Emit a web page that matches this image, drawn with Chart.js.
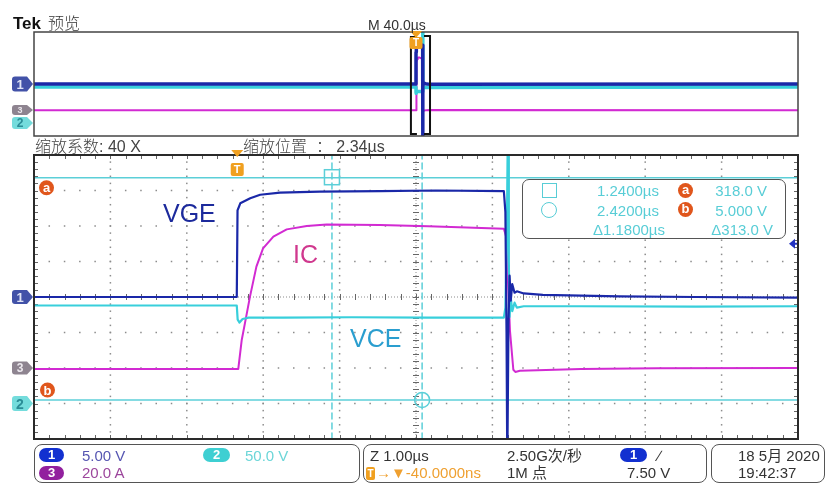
<!DOCTYPE html>
<html>
<head>
<meta charset="utf-8">
<script src="https://cdn.jsdelivr.net/npm/chart.js@4.4.0/dist/chart.umd.min.js"></script>
<style>
  body { margin: 0; background: #fff; }
  #wrap { position: relative; width: 828px; height: 497px; overflow: hidden;
          font-family: "Liberation Sans", Arial, "Noto Sans CJK SC", sans-serif; }
  canvas { position: absolute; left: 0; top: 0; }
  .t { position: absolute; white-space: nowrap; line-height: 1; }
  .cjk { font-family: "Noto Sans CJK SC", sans-serif; font-weight: 300; }
  .box { position: absolute; box-sizing: border-box; border: 1.5px solid #555; border-radius: 8px; }
  .pill { position: absolute; height: 14px; border-radius: 7px; color: #fff; text-align: center;
          font: bold 13px "Liberation Sans", Arial, sans-serif; line-height: 14px; }
  .mk { position: absolute; text-align: center; line-height: 1; font-weight: bold; }
  .rd { position: absolute; line-height: 1; font-size: 15px; color: #58cdd6; white-space: nowrap; text-align: right; }
</style>
</head>
<body>
<div id="wrap">
  <canvas id="overview" width="828" height="140"></canvas>
  <canvas id="main" width="828" height="497"></canvas>

  <div class="t" style="left:13px;top:15px;font-size:17px;font-weight:bold;color:#111">Tek</div>
  <div class="t cjk" style="left:48px;top:14px;font-size:16px;color:#333">预览</div>
  <div class="t" style="left:368px;top:18px;font-size:14px;color:#333">M 40.0µs</div>
  <div class="t" style="left:35px;top:137px;font-size:16px;color:#444"><span class="cjk">缩放系数</span>: 40 X</div>
  <div class="t" style="left:243px;top:137px;font-size:16px;color:#444"><span class="cjk">缩放位置</span>&nbsp;&nbsp;<span class="cjk">：</span>&nbsp;2.34µs</div>

  <div class="t" style="left:163px;top:201px;font-size:25px;color:#1c2a9c">VGE</div>
  <div class="t" style="left:293px;top:242px;font-size:25px;color:#d0388e">IC</div>
  <div class="t" style="left:350px;top:326px;font-size:25px;color:#2a9ecf">VCE</div>

  <!-- cursor readout -->
  <div class="box" style="left:522px;top:179px;width:264px;height:60px;border-radius:7px;background:#fff"></div>
  <div style="position:absolute;left:542px;top:183px;width:15px;height:15px;box-sizing:border-box;border:1.5px solid #58cdd6"></div>
  <div style="position:absolute;left:541px;top:202px;width:16px;height:16px;box-sizing:border-box;border:1.5px solid #58cdd6;border-radius:50%"></div>
  <div class="rd" style="right:169px;top:183px">1.2400µs</div>
  <div class="rd" style="right:169px;top:203px">2.4200µs</div>
  <div class="rd" style="right:163px;top:222px">Δ1.1800µs</div>
  <div class="rd" style="right:61px;top:183px">318.0 V</div>
  <div class="rd" style="right:61px;top:203px">5.000 V</div>
  <div class="rd" style="right:55px;top:222px">Δ313.0 V</div>
  <div class="mk" style="left:678px;top:183px;width:15px;height:15px;border-radius:50%;background:#e0561c;color:#fff;font-size:13px;line-height:14px">a</div>
  <div class="mk" style="left:678px;top:202px;width:15px;height:15px;border-radius:50%;background:#e0561c;color:#fff;font-size:13px;line-height:14px">b</div>

  <!-- status bar -->
  <div class="box" style="left:34px;top:444px;width:326px;height:39px"></div>
  <div class="box" style="left:363px;top:444px;width:344px;height:39px"></div>
  <div class="box" style="left:711px;top:444px;width:114px;height:39px"></div>

  <div class="pill" style="left:39px;top:448px;width:25px;background:#1230d0">1</div>
  <div class="t" style="left:82px;top:448px;font-size:15px;color:#5656b2">5.00 V</div>
  <div class="pill" style="left:203px;top:448px;width:27px;background:#3ecfd2">2</div>
  <div class="t" style="left:245px;top:448px;font-size:15px;color:#6cd6d8">50.0 V</div>
  <div class="pill" style="left:39px;top:466px;width:25px;background:#92209e">3</div>
  <div class="t" style="left:82px;top:465px;font-size:15px;color:#9c469c">20.0 A</div>

  <div class="t" style="left:370px;top:448px;font-size:15px;color:#333">Z 1.00µs</div>
  <div class="mk" style="left:366px;top:467px;width:9px;height:13px;border-radius:2px;background:#f0a020;color:#fff;font-size:10px;line-height:13px">T</div>
  <div class="t" style="left:376px;top:465px;font-size:15px;color:#efa030">→▼-40.0000ns</div>
  <div class="t" style="left:507px;top:448px;font-size:15px;color:#333">2.50G次/秒</div>
  <div class="t" style="left:507px;top:465px;font-size:15px;color:#333">1M 点</div>
  <div class="pill" style="left:620px;top:448px;width:27px;background:#1230d0">1</div>
  <div class="t" style="left:658px;top:448px;font-size:15px;color:#333">∕</div>
  <div class="t" style="left:627px;top:465px;font-size:15px;color:#333">7.50 V</div>

  <div class="t" style="left:738px;top:448px;font-size:15px;color:#333">18 5月 2020</div>
  <div class="t" style="left:738px;top:465px;font-size:15px;color:#333">19:42:37</div>
</div>

<script>
// Waveforms, time in µs relative to the trigger
const vgeTime  = [-200, -2.66, -0.006, 0.004, 0.04, 0.17, 0.3, 0.56, 1.08, 1.87, 2.6, 3.49, 3.51, 3.525, 3.535, 3.55, 3.565, 3.58, 3.6, 3.63, 3.66, 3.75, 4.0, 5.0, 6.0, 7.34, 200];
const vgeVolts = [0, 0, 0, 12.2, 13.2, 13.9, 14.4, 14.7, 14.85, 14.9, 15.0, 14.9, 12.0, -5, -24, -4, 3, -0.5, 1.8, 0.6, 0.8, 0.5, 0.3, 0.1, 0, -0.1, 0];

const vceTime  = [-200, -2.66, -0.006, 0.006, 0.03, 0.07, 0.15, 0.6, 1.5, 2.5, 3.49, 3.51, 3.53, 3.545, 3.555, 3.565, 3.58, 3.6, 3.63, 3.66, 3.75, 4.5, 6.0, 7.34, 200];
const vceVolts = [138, 138, 138, 118, 114, 119, 121, 121, 121.5, 121, 121, 135, 250, 420, 200, 122, 150, 130, 142, 135, 137, 137, 136.5, 137, 138];

const icTime = [-200, -2.66, 0.014, 0.059, 0.1, 0.167, 0.251, 0.338, 0.473, 0.648, 0.91, 1.17, 1.87, 2.5, 3.0, 3.49, 3.52, 3.57, 3.614, 3.64, 3.7, 4.5, 5.5, 7.34, 200];
const icAmps = [-0.5, -0.5, -0.5, 15.8, 25, 40.2, 57.1, 67.4, 74.0, 78.1, 80.0, 80.8, 80.6, 79.8, 79.2, 78.5, 74, 21, -1, -2.2, -1.6, -0.6, -0.2, 0, -0.3];

// Cursors (time cursors in µs, voltage cursors on CH2)
const cursorTimes = [1.24, 2.42];
const cursorVolts = [318, 5];
const triggerTime = 0;
const triggerLevel = 7.5;

// Scope settings: units per division and ground offset in divisions
const ch1PerDiv = 5,  ch1Offset = 0;
const ch2PerDiv = 50, ch2Offset = -3;
const ch3PerDiv = 20, ch3Offset = -2;
const zoomWindow = [-2.66, 7.34];
const overviewWindow = [-200, 200];

const ch1Color = '#1a28a8';
const ch2Color = '#38cfdb';
const ch3Color = '#d22ad2';
const cursorColor = '#5ccfd8';

function pairs(xs, ys) {
  return xs.map((x, i) => ({ x: x, y: ys[i] }));
}

function channelScale(perDiv, offset) {
  return { type: 'linear', display: false, min: (-4 - offset) * perDiv, max: (4 - offset) * perDiv };
}

function makeScales(win) {
  return {
    x: { type: 'linear', display: false, min: win[0], max: win[1] },
    y1: channelScale(ch1PerDiv, ch1Offset),
    y2: channelScale(ch2PerDiv, ch2Offset),
    y3: channelScale(ch3PerDiv, ch3Offset),
  };
}

function waveDatasets(w) {
  return [
    { data: pairs(vgeTime, vgeVolts), yAxisID: 'y1', borderColor: ch1Color, borderWidth: w[0], order: 1 },
    { data: pairs(vceTime, vceVolts), yAxisID: 'y2', borderColor: ch2Color, borderWidth: w[1], order: 2 },
    { data: pairs(icTime, icAmps), yAxisID: 'y3', borderColor: ch3Color, borderWidth: w[2], order: 3 },
  ];
}

function chMarker(ctx, y, h, fill) {
  ctx.beginPath();
  ctx.moveTo(27, y - h / 2);
  ctx.lineTo(33, y);
  ctx.lineTo(27, y + h / 2);
  ctx.lineTo(15, y + h / 2);
  ctx.arcTo(12, y + h / 2, 12, y, 3);
  ctx.arcTo(12, y - h / 2, 15, y - h / 2, 3);
  ctx.closePath();
  ctx.fillStyle = fill;
  ctx.fill();
}

function trigMarker(ctx, x, triTop, boxTop, boxH) {
  ctx.fillStyle = '#f0a020';
  ctx.beginPath();
  ctx.moveTo(x - 6, triTop);
  ctx.lineTo(x + 6, triTop);
  ctx.lineTo(x, triTop + 7);
  ctx.closePath();
  ctx.fill();
  ctx.beginPath();
  ctx.roundRect(x - 6.5, boxTop, 13, boxH, 2);
  ctx.fill();
}

// Graticule: dotted divisions, ticked crosshair and border
function drawGraticule(chart) {
  const { ctx, chartArea: a } = chart;
  const dx = (a.right - a.left) / 10, dy = (a.bottom - a.top) / 8;
  const cx = a.left + 5 * dx, cy = a.top + 4 * dy;
  ctx.save();
  ctx.fillStyle = '#8c8c8c';
  for (let i = 1; i < 10; i++) {
    if (i === 5) continue;
    const x = a.left + i * dx;
    for (let j = 0; j <= 40; j++) ctx.fillRect(x - 0.75, a.top + j * dy / 5 - 0.75, 1.5, 1.5);
  }
  for (let j = 1; j < 8; j++) {
    if (j === 4) continue;
    const y = a.top + j * dy;
    for (let i = 0; i <= 50; i++) ctx.fillRect(a.left + i * dx / 5 - 0.75, y - 0.75, 1.5, 1.5);
  }
  // crosshair: fine dots
  for (let x = a.left; x <= a.right; x += 3) ctx.fillRect(x, cy - 0.5, 1, 1);
  for (let y = a.top; y <= a.bottom; y += 3) ctx.fillRect(cx - 0.5, y, 1, 1);
  ctx.strokeStyle = '#666';
  ctx.lineWidth = 1;
  ctx.beginPath();
  for (let i = 0; i <= 50; i++) {
    const x = Math.round(a.left + i * dx / 5) + 0.5;
    ctx.moveTo(x, cy - 3); ctx.lineTo(x, cy + 3);
    ctx.moveTo(x, a.top); ctx.lineTo(x, a.top + 4);
    ctx.moveTo(x, a.bottom); ctx.lineTo(x, a.bottom - 4);
  }
  for (let j = 0; j <= 40; j++) {
    const y = Math.round(a.top + j * dy / 5) + 0.5;
    ctx.moveTo(cx - 3, y); ctx.lineTo(cx + 3, y);
    ctx.moveTo(a.left, y); ctx.lineTo(a.left + 4, y);
    ctx.moveTo(a.right, y); ctx.lineTo(a.right - 4, y);
  }
  ctx.stroke();
  ctx.restore();
}

const mainDecor = {
  id: 'mainDecor',
  beforeDatasetsDraw(chart) {
    drawGraticule(chart);
  },
  afterDraw(chart) {
    const { ctx, chartArea: a, scales: s } = chart;
    ctx.save();
    ctx.strokeStyle = '#2a2a2a';
    ctx.lineWidth = 2;
    ctx.strokeRect(a.left, a.top, a.right - a.left, a.bottom - a.top);

    chMarker(ctx, s.y1.getPixelForValue(0), 14, '#4252a8');
    chMarker(ctx, s.y3.getPixelForValue(0), 13, '#8e8490');
    chMarker(ctx, s.y2.getPixelForValue(0), 15, '#74dcdc');

    trigMarker(ctx, s.x.getPixelForValue(triggerTime), a.top - 5, a.top + 8, 13);

    // cursor markers
    ctx.strokeStyle = cursorColor;
    ctx.lineWidth = 1.5;
    const c1x = s.x.getPixelForValue(cursorTimes[0]);
    const c2x = s.x.getPixelForValue(cursorTimes[1]);
    ctx.strokeRect(c1x - 7.5, s.y2.getPixelForValue(cursorVolts[0]) - 8, 15, 15);
    ctx.beginPath();
    ctx.arc(c2x, s.y2.getPixelForValue(cursorVolts[1]), 7.5, 0, Math.PI * 2);
    ctx.stroke();

    // a / b cursor tags
    ctx.fillStyle = '#e0561c';
    ctx.beginPath();
    ctx.arc(a.left + 12.5, s.y2.getPixelForValue(cursorVolts[0]) + 10, 7.5, 0, Math.PI * 2);
    ctx.fill();
    ctx.beginPath();
    ctx.arc(a.left + 13.5, s.y2.getPixelForValue(cursorVolts[1]) - 10, 7.5, 0, Math.PI * 2);
    ctx.fill();

    // trigger level arrow
    const ty = s.y1.getPixelForValue(triggerLevel);
    ctx.fillStyle = '#2232c0';
    ctx.beginPath();
    ctx.moveTo(a.right - 9, ty);
    ctx.lineTo(a.right - 3, ty - 5);
    ctx.lineTo(a.right - 3, ty + 5);
    ctx.closePath();
    ctx.fill();
    ctx.fillRect(a.right - 4, ty - 1, 3, 2);
    ctx.restore();
  }
};

const overviewDecor = {
  id: 'overviewDecor',
  afterDraw(chart) {
    const { ctx, chartArea: a, scales: s } = chart;
    ctx.save();
    ctx.strokeStyle = '#444';
    ctx.lineWidth = 1.5;
    ctx.strokeRect(a.left, a.top, a.right - a.left, a.bottom - a.top);

    chMarker(ctx, s.y1.getPixelForValue(0), 15, '#4252a8');
    chMarker(ctx, s.y3.getPixelForValue(0), 10, '#8e8490');
    chMarker(ctx, s.y2.getPixelForValue(0), 12, '#74dcdc');

    // zoom window bracket
    const x1 = s.x.getPixelForValue(zoomWindow[0]);
    const x2 = s.x.getPixelForValue(zoomWindow[1]);
    ctx.strokeStyle = '#111';
    ctx.lineWidth = 2;
    ctx.beginPath();
    ctx.moveTo(x1 + 6, a.top + 5); ctx.lineTo(x1, a.top + 5); ctx.lineTo(x1, a.bottom - 2); ctx.lineTo(x1 + 6, a.bottom - 2);
    ctx.moveTo(x2 - 6, a.top + 4); ctx.lineTo(x2, a.top + 4); ctx.lineTo(x2, a.bottom - 2); ctx.lineTo(x2 - 6, a.bottom - 2);
    ctx.stroke();

    trigMarker(ctx, s.x.getPixelForValue(triggerTime), a.top - 1, a.top + 5, 12);
    ctx.restore();
  }
};

const baseOptions = (win, pad) => ({
  animation: false,
  responsive: false,
  events: [],
  layout: { padding: pad },
  plugins: { legend: { display: false }, tooltip: { enabled: false } },
  elements: { point: { radius: 0 }, line: { tension: 0, borderJoinStyle: 'round', borderCapStyle: 'round' } },
  scales: makeScales(win),
});

const overviewChart = new Chart(document.getElementById('overview'), {
  type: 'line',
  data: { datasets: waveDatasets([3.5, 3.5, 2]) },
  options: baseOptions(overviewWindow, { left: 34, right: 30, top: 32, bottom: 4 }),
  plugins: [overviewDecor],
});

const cursorDatasets = [
  { data: [{ x: zoomWindow[0], y: cursorVolts[0] }, { x: zoomWindow[1], y: cursorVolts[0] }], yAxisID: 'y2', borderColor: cursorColor, borderWidth: 1.5, order: 5 },
  { data: [{ x: zoomWindow[0], y: cursorVolts[1] }, { x: zoomWindow[1], y: cursorVolts[1] }], yAxisID: 'y2', borderColor: cursorColor, borderWidth: 1.5, order: 5 },
  { data: [{ x: cursorTimes[0], y: -50 }, { x: cursorTimes[0], y: 350 }], yAxisID: 'y2', borderColor: cursorColor, borderWidth: 1.5, borderDash: [6, 4], order: 5 },
  { data: [{ x: cursorTimes[1], y: -50 }, { x: cursorTimes[1], y: 350 }], yAxisID: 'y2', borderColor: cursorColor, borderWidth: 1.5, borderDash: [6, 4], order: 5 },
];

const mainChart = new Chart(document.getElementById('main'), {
  type: 'line',
  data: { datasets: waveDatasets([2.2, 2.2, 2]).concat(cursorDatasets) },
  options: baseOptions(zoomWindow, { left: 34, right: 30, top: 155, bottom: 58 }),
  plugins: [mainDecor],
});

// Marker glyphs as real text, placed from the chart scales
const wrap = document.getElementById('wrap');
function addMark(text, cx, cy, color, size) {
  const d = document.createElement('div');
  d.className = 'mk';
  d.textContent = text;
  d.style.left = (cx - 10) + 'px';
  d.style.width = '20px';
  d.style.top = (cy - size * 0.49) + 'px';
  d.style.fontSize = size + 'px';
  d.style.color = color;
  wrap.appendChild(d);
}

const ms = mainChart.scales, os = overviewChart.scales;
const ma = mainChart.chartArea;
addMark('1', 20, ms.y1.getPixelForValue(0), '#dfe3f5', 13);
addMark('3', 20, ms.y3.getPixelForValue(0), '#ece8ee', 12);
addMark('2', 20, ms.y2.getPixelForValue(0), '#2a8c96', 14);
addMark('T', ms.x.getPixelForValue(triggerTime), ma.top + 14.5, '#fff', 11);
addMark('a', ma.left + 12.5, ms.y2.getPixelForValue(cursorVolts[0]) + 10, '#fff', 13);
addMark('b', ma.left + 13.5, ms.y2.getPixelForValue(cursorVolts[1]) - 10, '#fff', 13);

const oa = overviewChart.chartArea;
addMark('1', 20, os.y1.getPixelForValue(0), '#dfe3f5', 13);
addMark('3', 20, os.y3.getPixelForValue(0), '#ece8ee', 9);
addMark('2', 20, os.y2.getPixelForValue(0), '#2a8c96', 12);
addMark('T', os.x.getPixelForValue(triggerTime), oa.top + 11, '#fff', 10);
</script>
</body>
</html>
